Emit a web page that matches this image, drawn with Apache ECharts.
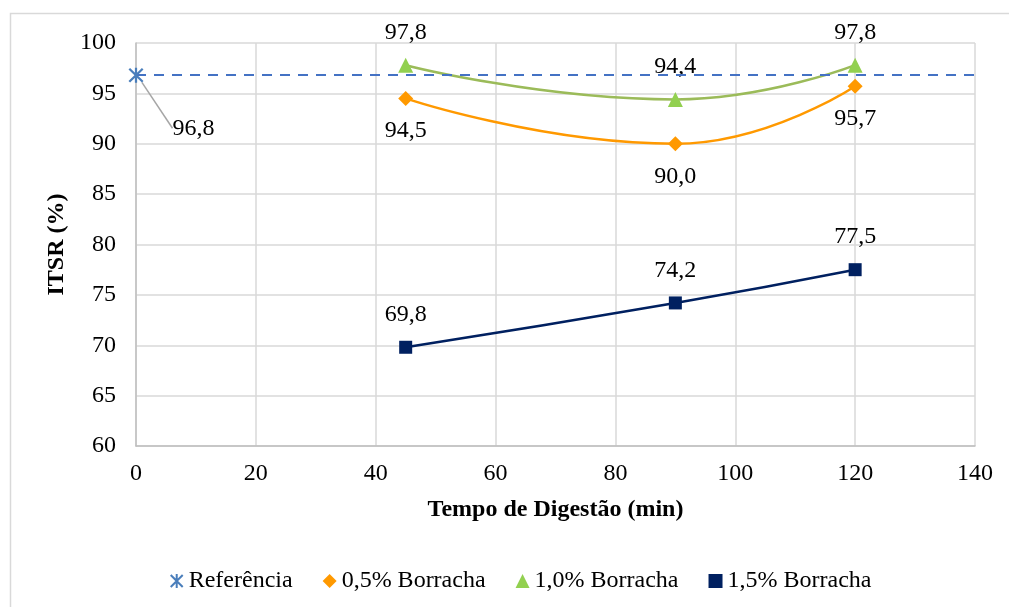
<!DOCTYPE html>
<html>
<head>
<meta charset="utf-8">
<script src="https://cdn.jsdelivr.net/npm/echarts@6/dist/echarts.min.js"></script>
<style>
  html, body { margin: 0; padding: 0; background: #ffffff; }
  #chart { width: 1009px; height: 607px; }
</style>
</head>
<body>
<div id="chart"></div>
<script>
// Digestion time (min) and ITSR (%) for each rubber content
const tempos = [45, 90, 120];
const referencia = 96.8;
const borracha05 = [94.5, 90.0, 95.7];
const borracha10 = [97.8, 94.4, 97.8];
const borracha15 = [69.8, 74.2, 77.5];
const xTicks = [0, 20, 40, 60, 80, 100, 120, 140];
const yTicks = [60, 65, 70, 75, 80, 85, 90, 95, 100];

const FONT = '"Liberation Serif", "Times New Roman", serif';
const FS = 24;
const fmt = v => v.toFixed(1).replace('.', ',');
const pairs = vals => tempos.map((t, i) => [t, vals[i]]);

// asterisk marker: vertical bar plus two diagonals
const STAR = 'path://M-1,-7L1,-7L1,7L-1,7Z' +
  'M-5.29,-6.71L6.71,5.29L5.29,6.71L-6.71,-5.29Z' +
  'M-5.29,6.71L-6.71,5.29L5.29,-6.71L6.71,-5.29Z';

const labelBase = {
  show: true,
  fontFamily: FONT,
  fontSize: FS,
  color: '#000000',
  formatter: p => fmt(p.value[1])
};

const chart = echarts.init(document.getElementById('chart'), null, { renderer: 'canvas' });

chart.setOption({
  backgroundColor: '#ffffff',
  animation: false,
  textStyle: { fontFamily: FONT },
  graphic: [{
    type: 'rect',
    shape: { x: 10.5, y: 13.5, width: 1010, height: 610 },
    style: { fill: 'none', stroke: '#d9d9d9', lineWidth: 1.5 },
    silent: true,
    z: -10
  }],
  grid: { left: 136, right: 34, top: 43, bottom: 161 },
  xAxis: {
    type: 'value',
    min: xTicks[0],
    max: xTicks[xTicks.length - 1],
    interval: xTicks[1] - xTicks[0],
    name: 'Tempo de Digestão (min)',
    nameLocation: 'middle',
    nameGap: 52,
    nameTextStyle: { fontFamily: FONT, fontSize: FS, fontWeight: 'bold', color: '#000' },
    axisLine: { show: true, lineStyle: { color: '#bfbfbf', width: 1.5 } },
    axisTick: { show: false },
    axisLabel: { fontFamily: FONT, fontSize: FS, color: '#000', margin: 16 },
    splitLine: { show: true, lineStyle: { color: '#d9d9d9', width: 1.5 } }
  },
  yAxis: {
    type: 'value',
    min: yTicks[0],
    max: yTicks[yTicks.length - 1],
    interval: yTicks[1] - yTicks[0],
    name: 'ITSR (%)',
    nameLocation: 'middle',
    nameGap: 66,
    nameRotate: 90,
    nameTextStyle: { fontFamily: FONT, fontSize: FS, fontWeight: 'bold', color: '#000' },
    axisLine: { show: true, lineStyle: { color: '#bfbfbf', width: 1.5 } },
    axisTick: { show: false },
    axisLabel: { fontFamily: FONT, fontSize: FS, color: '#000', margin: 20 },
    splitLine: { show: true, lineStyle: { color: '#d9d9d9', width: 1.5 } }
  },
  legend: {
    left: 165,
    top: 564,
    itemWidth: 14,
    itemHeight: 14,
    itemGap: 30,
    textStyle: { fontFamily: FONT, fontSize: FS, color: '#000' },
    data: [
      { name: 'Referência', icon: STAR },
      { name: '0,5% Borracha', icon: 'diamond' },
      { name: '1,0% Borracha', icon: 'triangle' },
      { name: '1,5% Borracha', icon: 'rect' }
    ]
  },
  series: [
    {
      name: 'Referência',
      type: 'line',
      data: [[0, referencia]],
      symbol: STAR,
      symbolSize: 15,
      color: '#4a7ebb',
      itemStyle: { color: '#4a7ebb' },
      label: Object.assign({}, labelBase, { position: 'right', distance: 5 }),
      labelLayout: { dx: 24, dy: 53 },
      labelLine: { show: true, lineStyle: { color: '#a6a6a6', width: 1.5 } },
      markLine: {
        silent: true,
        symbol: 'none',
        label: { show: false },
        lineStyle: { color: '#4472c4', width: 2, type: [10, 8] },
        data: [{ yAxis: referencia }]
      },
      z: 5
    },
    {
      name: '0,5% Borracha',
      type: 'line',
      data: pairs(borracha05),
      smooth: 0.5,
      symbol: 'diamond',
      symbolSize: 15,
      color: '#ff9900',
      lineStyle: { color: '#ff9900', width: 2.5 },
      itemStyle: { color: '#ff9900' },
      label: Object.assign({}, labelBase, { position: 'bottom', distance: 13 }),
      z: 3
    },
    {
      name: '1,0% Borracha',
      type: 'line',
      data: pairs(borracha10),
      smooth: 0.5,
      symbol: 'triangle',
      symbolSize: 15,
      color: '#92d050',
      lineStyle: { color: '#9bbb59', width: 2.5 },
      itemStyle: { color: '#92d050' },
      label: Object.assign({}, labelBase, { position: 'top', distance: 13 }),
      z: 3
    },
    {
      name: '1,5% Borracha',
      type: 'line',
      data: pairs(borracha15),
      smooth: 0.5,
      symbol: 'rect',
      symbolSize: 13,
      color: '#002060',
      lineStyle: { color: '#002060', width: 2.5 },
      itemStyle: { color: '#002060' },
      label: Object.assign({}, labelBase, { position: 'top', distance: 14 }),
      z: 3
    }
  ]
});
</script>
</body>
</html>
